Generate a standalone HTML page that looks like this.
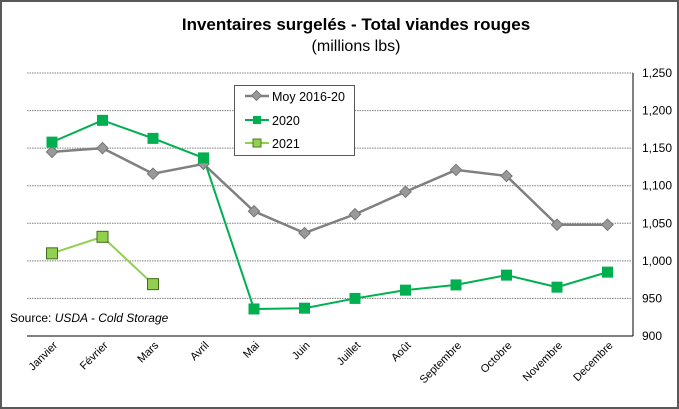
<!DOCTYPE html>
<html><head><meta charset="utf-8"><style>
body{margin:0;background:#fff;}
svg{display:block;font-family:"Liberation Sans",sans-serif;}
</style></head><body>
<svg id="c" width="679" height="409">
<rect x="1" y="1" width="677" height="407" fill="#fff" stroke="#595959" stroke-width="2"/>
<text x="356" y="30" text-anchor="middle" font-size="17" font-weight="bold">Inventaires surgelés - Total viandes rouges</text>
<text x="356" y="51" text-anchor="middle" font-size="16">(millions lbs)</text>
<line x1="633" y1="73" x2="633" y2="336" stroke="#000"/>
<line x1="27" y1="336" x2="633" y2="336" stroke="#000"/>
<text x="10" y="322" font-size="12">Source: <tspan font-style="italic">USDA - Cold Storage</tspan></text>
<g id="grid"></g><g id="ticks"></g><g id="series"></g>
<g>
<rect x="234.5" y="85.5" width="120" height="70" fill="#fff" stroke="#595959"/>
<line x1="245" y1="96" x2="269" y2="96" stroke="#808080" stroke-width="2.5"/>
<rect x="253" y="92" width="7" height="7" fill="#999" stroke="#777" transform="rotate(45 256.5 95.5)"/>
<text x="272" y="101" font-size="12.5">Moy 2016-20</text>
<line x1="245" y1="120" x2="269" y2="120" stroke="#00b050" stroke-width="2"/>
<rect x="253" y="116" width="8" height="8" fill="#00b050"/>
<text x="272" y="125" font-size="12.5">2020</text>
<line x1="245" y1="143" x2="269" y2="143" stroke="#92d050" stroke-width="2"/>
<rect x="253" y="139" width="8" height="8" fill="#92d050" stroke="#4a7a20"/>
<text x="272" y="148" font-size="12.5">2021</text>
</g>
</svg>
<script>
const categories=["Janvier","Février","Mars","Avril","Mai","Juin","Juillet","Août","Septembre","Octobre","Novembre","Decembre"];
const moy=[1145,1150,1116,1129,1066,1037,1062,1092,1121,1113,1048,1048];
const s2020=[1158,1187,1163,1137,936,937,950,961,968,981,965,985];
const s2021=[1010,1032,969];
const yTicks=[900,950,1000,1050,1100,1150,1200,1250];
const NS="http://www.w3.org/2000/svg";
const x=i=>52+i*50.5;
const y=v=>336-(v-900)*(263/350);
function mk(tag,attrs,parent){const e=document.createElementNS(NS,tag);for(const k in attrs)e.setAttribute(k,attrs[k]);parent.appendChild(e);return e;}
const grid=document.getElementById('grid'),ticks=document.getElementById('ticks'),ser=document.getElementById('series');
yTicks.forEach(t=>{
 if(t>900){const l=mk('line',{x1:27,x2:633,y1:y(t),y2:y(t),stroke:'#808080','stroke-dasharray':'1.5 1'},grid);
 
 }
 const tx=mk('text',{x:642,y:y(t)+4,'font-size':12},ticks);tx.textContent=t.toLocaleString('en-US');
 
 
});
categories.forEach((c,i)=>{
 const tx=mk('text',{x:x(i)+6,y:346,'font-size':11,'text-anchor':'end',transform:`rotate(-45 ${x(i)+6} 346)`},ticks);tx.textContent=c;
 
 
});
function line(vals,color,w,name){
 const p=mk('polyline',{points:vals.map((v,i)=>x(i)+','+y(v)).join(' '),fill:'none',stroke:color,'stroke-width':w},ser);
 
 
}
line(moy,'#808080',2.5,'moy');
line(s2020,'#00b050',2,'s2020');
line(s2021,'#92d050',2,'s2021');
moy.forEach((v,i)=>{const r=mk('rect',{x:x(i)-4,y:y(v)-4,width:8,height:8,fill:'#999',stroke:'#777',transform:`rotate(45 ${x(i)} ${y(v)})`},ser);
 
 });
s2020.forEach((v,i)=>{const r=mk('rect',{x:x(i)-5.5,y:y(v)-5.5,width:11,height:11,fill:'#00b050'},ser);
 
 });
s2021.forEach((v,i)=>{const r=mk('rect',{x:x(i)-5.5,y:y(v)-5.5,width:11,height:11,fill:'#92d050',stroke:'#3f6b1a'},ser);
 
 });
</script>
</body></html>
